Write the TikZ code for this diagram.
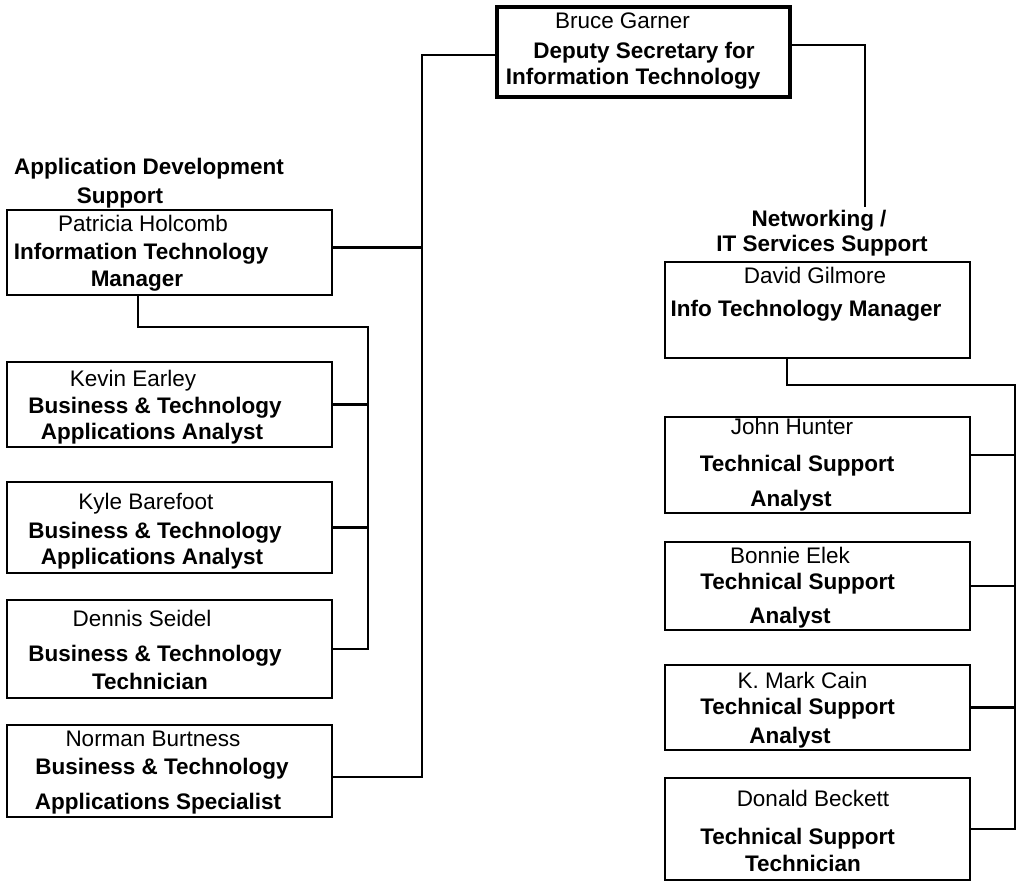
\documentclass[tikz,border=0pt]{standalone}
\usepackage{fontspec}
\setmainfont{Liberation Sans}
\begin{document}
\begin{tikzpicture}[x=0.02cm,y=-0.02cm,
  box/.style={draw, line width=1.4pt, inner sep=0, minimum width=6.5cm},
  rbox/.style={draw, line width=1.4pt, inner sep=0, minimum width=6.1cm},
  topbox/.style={draw, line width=2.6pt, inner sep=0, minimum width=5.86cm, minimum height=1.8cm},
  conn/.style={line width=1.3pt},
  nm/.style={inner sep=0, text height=0.72em, text depth=0pt, font=\fontsize{12.8}{15}\selectfont},
  tl/.style={inner sep=0, text height=0.72em, text depth=0pt, font=\fontsize{12.8}{15}\selectfont\bfseries}]
\useasboundingbox (0,0) rectangle (1020,882);

% boxes
\node[topbox] (bruce) at (643.5,52) {};
\node[box, minimum height=1.7cm] (patricia) at (169.5,252.5) {};
\node[box, minimum height=1.7cm] (kevin) at (169.5,404.5) {};
\node[box, minimum height=1.82cm] (kyle) at (169.5,527.5) {};
\node[box, minimum height=1.96cm] (dennis) at (169.5,649) {};
\node[box, minimum height=1.84cm] (norman) at (169.5,771) {};
\node[rbox, minimum height=1.92cm] (david) at (817.5,310) {};
\node[rbox, minimum height=1.92cm] (john) at (817.5,465) {};
\node[rbox, minimum height=1.76cm] (bonnie) at (817.5,586) {};
\node[rbox, minimum height=1.7cm] (cain) at (817.5,707.5) {};
\node[rbox, minimum height=2.04cm] (donald) at (817.5,829) {};

% texts
\node[nm] (bruceN) at (622.5,22) {Bruce Garner};
\node[tl] (bruceT1) at (644,52) {Deputy Secretary for};
\node[tl] (bruceT2) at (633,78) {Information Technology};

\node[tl] (adsA) at (149,168) {Application Development};
\node[tl] (adsB) at (120,197) {Support};
\node[nm] (patriciaN) at (143,225) {Patricia Holcomb};
\node[tl] (patriciaT1) at (141,253) {Information Technology};
\node[tl] (patriciaT2) at (137,280) {Manager};

\node[nm] (kevinN) at (133,380) {Kevin Earley};
\node[tl] (kevinT1) at (155,407) {Business \& Technology};
\node[tl] (kevinT2) at (152,433) {Applications Analyst};

\node[nm] (kyleN) at (146,503) {Kyle Barefoot};
\node[tl] (kyleT1) at (155,532) {Business \& Technology};
\node[tl] (kyleT2) at (152,558) {Applications Analyst};

\node[nm] (dennisN) at (142,620) {Dennis Seidel};
\node[tl] (dennisT1) at (155,655) {Business \& Technology};
\node[tl] (dennisT2) at (150,683) {Technician};

\node[nm] (normanN) at (153,740) {Norman Burtness};
\node[tl] (normanT1) at (162,768) {Business \& Technology};
\node[tl] (normanT2) at (158,803) {Applications Specialist};

\node[tl] (netA) at (819,220) {Networking /};
\node[tl] (netB) at (822,245) {IT Services Support};
\node[nm] (davidN) at (815,277) {David Gilmore};
\node[tl] (davidT1) at (806,310) {Info Technology Manager};

\node[nm] (johnN) at (792,428) {John Hunter};
\node[tl] (johnT1) at (797,465) {Technical Support};
\node[tl] (johnT2) at (791,500) {Analyst};

\node[nm] (bonnieN) at (790,557) {Bonnie Elek};
\node[tl] (bonnieT1) at (797.5,583) {Technical Support};
\node[tl] (bonnieT2) at (790,617) {Analyst};

\node[nm] (cainN) at (802.5,682) {K. Mark Cain};
\node[tl] (cainT1) at (797.5,708) {Technical Support};
\node[tl] (cainT2) at (790,737) {Analyst};

\node[nm] (donaldN) at (813,800) {Donald Beckett};
\node[tl] (donaldT1) at (797.5,838) {Technical Support};
\node[tl] (donaldT2) at (803,865) {Technician};

% connector end points on the boxes
\coordinate (bruceL) at ([yshift=-0.06cm]bruce.west);
\coordinate (bruceR) at ([yshift=0.14cm]bruce.east);
\coordinate (patriciaR) at ([yshift=0.1cm]patricia.east);
\coordinate (patriciaB) at ([xshift=-0.63cm]patricia.south);
\coordinate (normanR) at ([yshift=-0.12cm]norman.east);
\coordinate (davidB) at ([xshift=-0.61cm]david.south);
\coordinate (johnR) at ([yshift=0.2cm]john.east);

% connectors, left
\coordinate (lbus) at (422,55);
\draw[conn] (bruceL) -- (lbus |- bruceL) -- (lbus |- normanR) -- (normanR);
\draw[conn] (patriciaR) -- (patriciaR -| lbus);
\coordinate (lsub) at (368,327);
\draw[conn] (patriciaB) |- (lsub) -- (lsub |- dennis.east) -- (dennis.east);
\draw[conn] (kevin.east) -- (kevin.east -| lsub);
\draw[conn] (kyle.east) -- (kyle.east -| lsub);

% connectors, right
\coordinate (rbus) at (865,207);
\draw[conn] (bruceR) -| (rbus);
\coordinate (rsub) at (1015,385);
\draw[conn] (davidB) |- (rsub) -- (rsub |- donald.east) -- (donald.east);
\draw[conn] (johnR) -- (johnR -| rsub);
\draw[conn] (bonnie.east) -- (bonnie.east -| rsub);
\draw[conn] (cain.east) -- (cain.east -| rsub);
\end{tikzpicture}
\end{document}
